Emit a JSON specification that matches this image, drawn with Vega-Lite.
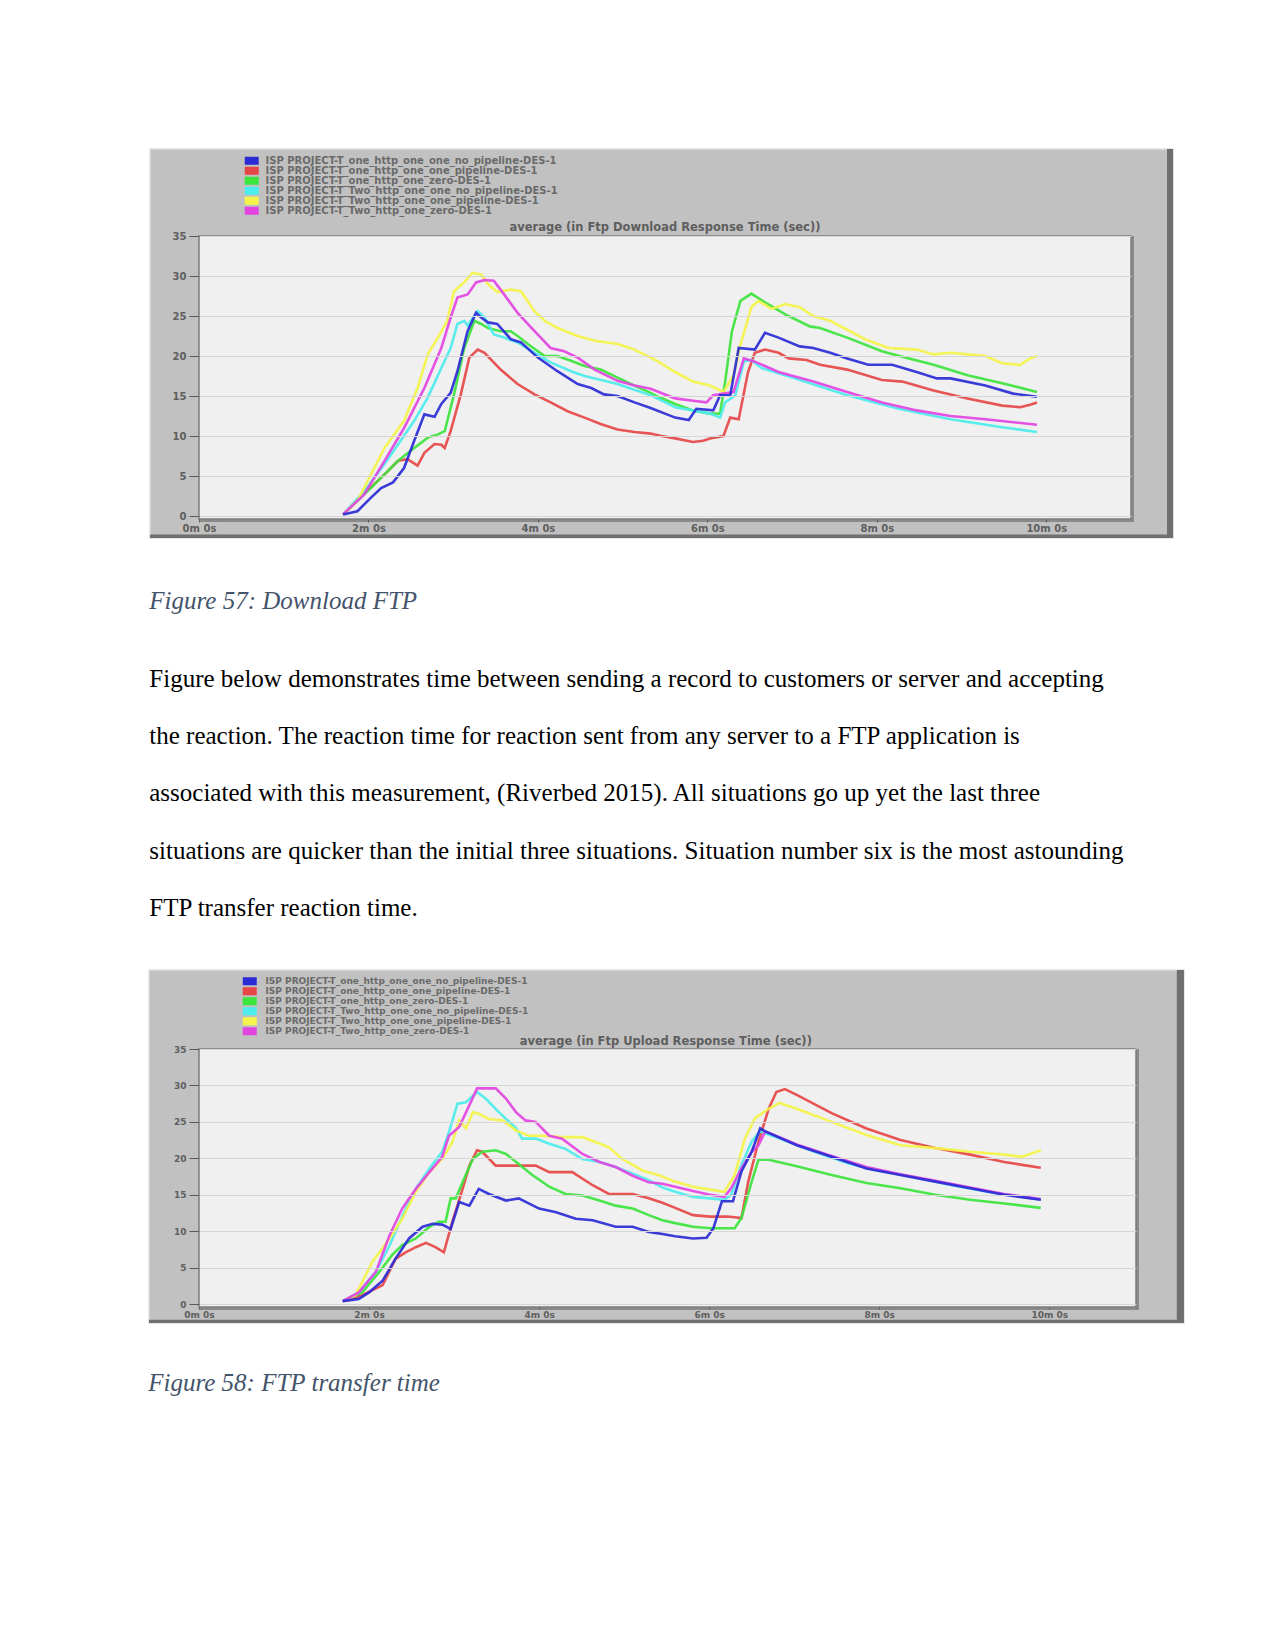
{
  "$schema": "https://vega.github.io/schema/vega-lite/v6.json",
  "background": "white",
  "padding": {"left": 148, "top": 148, "right": 0, "bottom": 0},
  "autosize": {"type": "pad"},
  "config": {
    "view": {"stroke": null, "fill": "#f0f0f0"},
    "axis": {"labelFont": "DejaVu Sans", "labelFontWeight": "bold", "labelFontSize": 10, "labelColor": "#5e5e5e", "tickColor": "#5a5a5a"},
    "legend": {"labelFont": "DejaVu Sans", "labelFontWeight": "bold", "labelFontSize": 9, "labelColor": "#6a6a6a", "labelLimit": 600, "padding": 0, "labelOffset": 10}
  },
  "datasets": {
    "names": [
      {"k": 1, "s": "ISP PROJECT-T_one_http_one_one_no_pipeline-DES-1"},
      {"k": 2, "s": "ISP PROJECT-T_one_http_one_one_pipeline-DES-1"},
      {"k": 3, "s": "ISP PROJECT-T_one_http_one_zero-DES-1"},
      {"k": 4, "s": "ISP PROJECT-T_Two_http_one_one_no_pipeline-DES-1"},
      {"k": 5, "s": "ISP PROJECT-T_Two_http_one_one_pipeline-DES-1"},
      {"k": 6, "s": "ISP PROJECT-T_Two_http_one_zero-DES-1"}
    ],
    "dl": [
      {"k":2,"t":1.70,"v":0.2},{"k":2,"t":1.95,"v":2.8},{"k":2,"t":2.19,"v":5.2},{"k":2,"t":2.35,"v":6.9},{"k":2,"t":2.46,"v":7.1},{"k":2,"t":2.58,"v":6.3},{"k":2,"t":2.66,"v":7.9},{"k":2,"t":2.78,"v":9.0},{"k":2,"t":2.86,"v":8.9},{"k":2,"t":2.90,"v":8.5},{"k":2,"t":2.97,"v":10.6},{"k":2,"t":3.09,"v":15.2},{"k":2,"t":3.19,"v":19.8},{"k":2,"t":3.29,"v":20.8},{"k":2,"t":3.37,"v":20.4},{"k":2,"t":3.56,"v":18.3},{"k":2,"t":3.76,"v":16.5},{"k":2,"t":3.96,"v":15.2},{"k":2,"t":4.15,"v":14.2},{"k":2,"t":4.35,"v":13.1},{"k":2,"t":4.55,"v":12.3},{"k":2,"t":4.74,"v":11.5},{"k":2,"t":4.94,"v":10.8},{"k":2,"t":5.14,"v":10.5},{"k":2,"t":5.33,"v":10.3},{"k":2,"t":5.46,"v":10.0},{"k":2,"t":5.62,"v":9.7},{"k":2,"t":5.83,"v":9.25},{"k":2,"t":5.95,"v":9.4},{"k":2,"t":6.03,"v":9.7},{"k":2,"t":6.19,"v":10.0},{"k":2,"t":6.27,"v":12.3},{"k":2,"t":6.37,"v":12.1},{"k":2,"t":6.48,"v":18.0},{"k":2,"t":6.56,"v":20.4},{"k":2,"t":6.68,"v":20.8},{"k":2,"t":6.84,"v":20.4},{"k":2,"t":6.96,"v":19.7},{"k":2,"t":7.17,"v":19.5},{"k":2,"t":7.33,"v":18.9},{"k":2,"t":7.65,"v":18.3},{"k":2,"t":8.06,"v":17.0},{"k":2,"t":8.30,"v":16.8},{"k":2,"t":8.67,"v":15.7},{"k":2,"t":9.07,"v":14.7},{"k":2,"t":9.48,"v":13.8},{"k":2,"t":9.69,"v":13.6},{"k":2,"t":9.81,"v":13.9},{"k":2,"t":9.89,"v":14.2},
      {"k":3,"t":1.70,"v":0.2},{"k":3,"t":1.95,"v":2.7},{"k":3,"t":2.19,"v":5.2},{"k":3,"t":2.35,"v":6.9},{"k":3,"t":2.54,"v":8.5},{"k":3,"t":2.70,"v":9.8},{"k":3,"t":2.82,"v":10.2},{"k":3,"t":2.90,"v":10.6},{"k":3,"t":3.01,"v":15.2},{"k":3,"t":3.13,"v":21.0},{"k":3,"t":3.25,"v":24.4},{"k":3,"t":3.33,"v":24.0},{"k":3,"t":3.41,"v":23.5},{"k":3,"t":3.56,"v":23.1},{"k":3,"t":3.68,"v":23.1},{"k":3,"t":3.76,"v":22.5},{"k":3,"t":3.88,"v":21.5},{"k":3,"t":4.00,"v":20.6},{"k":3,"t":4.08,"v":20.0},{"k":3,"t":4.23,"v":20.0},{"k":3,"t":4.39,"v":19.4},{"k":3,"t":4.55,"v":18.75},{"k":3,"t":4.74,"v":18.3},{"k":3,"t":4.94,"v":17.3},{"k":3,"t":5.14,"v":16.3},{"k":3,"t":5.33,"v":15.4},{"k":3,"t":5.42,"v":14.9},{"k":3,"t":5.62,"v":14.0},{"k":3,"t":5.83,"v":13.2},{"k":3,"t":6.03,"v":12.8},{"k":3,"t":6.15,"v":12.8},{"k":3,"t":6.21,"v":16.8},{"k":3,"t":6.29,"v":23.1},{"k":3,"t":6.39,"v":26.9},{"k":3,"t":6.52,"v":27.8},{"k":3,"t":6.68,"v":26.7},{"k":3,"t":6.92,"v":25.2},{"k":3,"t":7.21,"v":23.7},{"k":3,"t":7.33,"v":23.5},{"k":3,"t":7.65,"v":22.3},{"k":3,"t":8.06,"v":20.6},{"k":3,"t":8.30,"v":19.9},{"k":3,"t":8.67,"v":18.9},{"k":3,"t":9.07,"v":17.6},{"k":3,"t":9.48,"v":16.6},{"k":3,"t":9.89,"v":15.5},
      {"k":4,"t":1.70,"v":0.2},{"k":4,"t":1.95,"v":3.1},{"k":4,"t":2.19,"v":6.5},{"k":4,"t":2.38,"v":9.4},{"k":4,"t":2.54,"v":11.9},{"k":4,"t":2.70,"v":14.8},{"k":4,"t":2.86,"v":18.5},{"k":4,"t":2.97,"v":21.0},{"k":4,"t":3.05,"v":24.0},{"k":4,"t":3.13,"v":24.4},{"k":4,"t":3.17,"v":23.8},{"k":4,"t":3.29,"v":25.6},{"k":4,"t":3.37,"v":24.8},{"k":4,"t":3.48,"v":22.7},{"k":4,"t":3.60,"v":22.3},{"k":4,"t":3.76,"v":21.7},{"k":4,"t":3.96,"v":20.4},{"k":4,"t":4.15,"v":19.2},{"k":4,"t":4.39,"v":18.1},{"k":4,"t":4.55,"v":17.5},{"k":4,"t":4.94,"v":16.5},{"k":4,"t":5.33,"v":15.1},{"k":4,"t":5.62,"v":13.6},{"k":4,"t":6.03,"v":12.8},{"k":4,"t":6.15,"v":12.3},{"k":4,"t":6.21,"v":14.2},{"k":4,"t":6.33,"v":15.1},{"k":4,"t":6.43,"v":19.3},{"k":4,"t":6.52,"v":19.5},{"k":4,"t":6.64,"v":18.5},{"k":4,"t":7.04,"v":17.2},{"k":4,"t":7.65,"v":15.1},{"k":4,"t":8.26,"v":13.4},{"k":4,"t":8.87,"v":12.1},{"k":4,"t":9.48,"v":11.1},{"k":4,"t":9.89,"v":10.5},
      {"k":5,"t":1.70,"v":0.2},{"k":5,"t":1.87,"v":1.9},{"k":5,"t":2.03,"v":5.2},{"k":5,"t":2.19,"v":8.5},{"k":5,"t":2.42,"v":11.9},{"k":5,"t":2.58,"v":16.0},{"k":5,"t":2.70,"v":20.2},{"k":5,"t":2.82,"v":22.3},{"k":5,"t":2.93,"v":24.4},{"k":5,"t":3.01,"v":28.1},{"k":5,"t":3.13,"v":29.2},{"k":5,"t":3.23,"v":30.4},{"k":5,"t":3.33,"v":30.2},{"k":5,"t":3.41,"v":29.0},{"k":5,"t":3.52,"v":28.0},{"k":5,"t":3.68,"v":28.3},{"k":5,"t":3.80,"v":28.1},{"k":5,"t":3.96,"v":25.6},{"k":5,"t":4.08,"v":24.4},{"k":5,"t":4.23,"v":23.5},{"k":5,"t":4.47,"v":22.5},{"k":5,"t":4.67,"v":21.9},{"k":5,"t":4.94,"v":21.5},{"k":5,"t":5.14,"v":20.8},{"k":5,"t":5.33,"v":19.8},{"k":5,"t":5.42,"v":19.3},{"k":5,"t":5.62,"v":18.0},{"k":5,"t":5.83,"v":16.8},{"k":5,"t":6.03,"v":16.3},{"k":5,"t":6.19,"v":15.5},{"k":5,"t":6.31,"v":17.6},{"k":5,"t":6.39,"v":21.4},{"k":5,"t":6.52,"v":26.1},{"k":5,"t":6.60,"v":26.9},{"k":5,"t":6.76,"v":25.9},{"k":5,"t":6.92,"v":26.5},{"k":5,"t":7.09,"v":26.1},{"k":5,"t":7.25,"v":25.0},{"k":5,"t":7.45,"v":24.4},{"k":5,"t":7.86,"v":22.1},{"k":5,"t":8.14,"v":21.0},{"k":5,"t":8.47,"v":20.8},{"k":5,"t":8.67,"v":20.2},{"k":5,"t":8.87,"v":20.4},{"k":5,"t":9.07,"v":20.2},{"k":5,"t":9.28,"v":20.0},{"k":5,"t":9.48,"v":19.1},{"k":5,"t":9.69,"v":18.9},{"k":5,"t":9.81,"v":19.7},{"k":5,"t":9.89,"v":20.0},
      {"k":6,"t":1.70,"v":0.2},{"k":6,"t":1.95,"v":2.7},{"k":6,"t":2.19,"v":6.9},{"k":6,"t":2.42,"v":11.0},{"k":6,"t":2.66,"v":16.0},{"k":6,"t":2.86,"v":21.0},{"k":6,"t":2.97,"v":24.8},{"k":6,"t":3.05,"v":27.3},{"k":6,"t":3.17,"v":27.7},{"k":6,"t":3.27,"v":29.2},{"k":6,"t":3.37,"v":29.5},{"k":6,"t":3.48,"v":29.4},{"k":6,"t":3.60,"v":27.7},{"k":6,"t":3.76,"v":25.4},{"k":6,"t":3.96,"v":23.1},{"k":6,"t":4.15,"v":21.0},{"k":6,"t":4.31,"v":20.6},{"k":6,"t":4.47,"v":19.8},{"k":6,"t":4.67,"v":18.3},{"k":6,"t":4.94,"v":16.9},{"k":6,"t":5.14,"v":16.3},{"k":6,"t":5.33,"v":15.9},{"k":6,"t":5.62,"v":14.7},{"k":6,"t":5.83,"v":14.4},{"k":6,"t":5.99,"v":14.2},{"k":6,"t":6.07,"v":15.1},{"k":6,"t":6.19,"v":15.3},{"k":6,"t":6.31,"v":15.5},{"k":6,"t":6.43,"v":19.7},{"k":6,"t":6.56,"v":19.3},{"k":6,"t":6.84,"v":18.0},{"k":6,"t":7.25,"v":16.8},{"k":6,"t":7.65,"v":15.5},{"k":6,"t":8.06,"v":14.2},{"k":6,"t":8.47,"v":13.2},{"k":6,"t":8.87,"v":12.5},{"k":6,"t":9.28,"v":12.1},{"k":6,"t":9.89,"v":11.4},
      {"k":1,"t":1.70,"v":0.2},{"k":1,"t":1.87,"v":0.6},{"k":1,"t":2.03,"v":2.3},{"k":1,"t":2.15,"v":3.5},{"k":1,"t":2.29,"v":4.2},{"k":1,"t":2.42,"v":6.0},{"k":1,"t":2.54,"v":9.4},{"k":1,"t":2.66,"v":12.7},{"k":1,"t":2.78,"v":12.4},{"k":1,"t":2.86,"v":14.0},{"k":1,"t":2.97,"v":15.4},{"k":1,"t":3.05,"v":18.1},{"k":1,"t":3.17,"v":23.1},{"k":1,"t":3.27,"v":25.4},{"k":1,"t":3.33,"v":24.8},{"k":1,"t":3.41,"v":24.2},{"k":1,"t":3.52,"v":24.0},{"k":1,"t":3.68,"v":22.1},{"k":1,"t":3.80,"v":21.7},{"k":1,"t":4.00,"v":19.8},{"k":1,"t":4.23,"v":18.1},{"k":1,"t":4.47,"v":16.5},{"k":1,"t":4.63,"v":16.0},{"k":1,"t":4.78,"v":15.2},{"k":1,"t":4.94,"v":15.0},{"k":1,"t":5.14,"v":14.2},{"k":1,"t":5.33,"v":13.5},{"k":1,"t":5.50,"v":12.8},{"k":1,"t":5.62,"v":12.3},{"k":1,"t":5.78,"v":12.0},{"k":1,"t":5.87,"v":13.4},{"k":1,"t":6.07,"v":13.2},{"k":1,"t":6.15,"v":15.1},{"k":1,"t":6.27,"v":15.1},{"k":1,"t":6.37,"v":21.0},{"k":1,"t":6.56,"v":20.8},{"k":1,"t":6.68,"v":22.9},{"k":1,"t":6.84,"v":22.3},{"k":1,"t":7.09,"v":21.2},{"k":1,"t":7.25,"v":21.0},{"k":1,"t":7.45,"v":20.4},{"k":1,"t":7.65,"v":19.7},{"k":1,"t":7.90,"v":18.9},{"k":1,"t":8.18,"v":18.9},{"k":1,"t":8.47,"v":18.0},{"k":1,"t":8.71,"v":17.2},{"k":1,"t":8.87,"v":17.2},{"k":1,"t":9.28,"v":16.3},{"k":1,"t":9.61,"v":15.3},{"k":1,"t":9.89,"v":14.9}
    ],
    "ul": [
      {"k":2,"t":1.69,"v":0.4},{"k":2,"t":1.92,"v":1.2},{"k":2,"t":2.16,"v":2.6},{"k":2,"t":2.31,"v":6.2},{"k":2,"t":2.43,"v":7.1},{"k":2,"t":2.55,"v":7.8},{"k":2,"t":2.67,"v":8.4},{"k":2,"t":2.78,"v":7.8},{"k":2,"t":2.88,"v":7.1},{"k":2,"t":2.98,"v":11.3},{"k":2,"t":3.10,"v":15.8},{"k":2,"t":3.18,"v":19.0},{"k":2,"t":3.27,"v":21.1},{"k":2,"t":3.33,"v":20.9},{"k":2,"t":3.49,"v":19.0},{"k":2,"t":3.73,"v":19.0},{"k":2,"t":3.96,"v":19.0},{"k":2,"t":4.12,"v":18.1},{"k":2,"t":4.39,"v":18.1},{"k":2,"t":4.63,"v":16.3},{"k":2,"t":4.82,"v":15.1},{"k":2,"t":5.10,"v":15.1},{"k":2,"t":5.29,"v":14.5},{"k":2,"t":5.45,"v":13.9},{"k":2,"t":5.60,"v":13.2},{"k":2,"t":5.81,"v":12.2},{"k":2,"t":6.01,"v":12.0},{"k":2,"t":6.22,"v":12.0},{"k":2,"t":6.38,"v":11.8},{"k":2,"t":6.46,"v":16.8},{"k":2,"t":6.58,"v":22.3},{"k":2,"t":6.70,"v":26.8},{"k":2,"t":6.79,"v":29.1},{"k":2,"t":6.89,"v":29.5},{"k":2,"t":7.03,"v":28.7},{"k":2,"t":7.44,"v":26.2},{"k":2,"t":7.85,"v":24.1},{"k":2,"t":8.25,"v":22.5},{"k":2,"t":8.66,"v":21.4},{"k":2,"t":9.07,"v":20.5},{"k":2,"t":9.47,"v":19.5},{"k":2,"t":9.68,"v":19.1},{"k":2,"t":9.90,"v":18.7},
      {"k":3,"t":1.69,"v":0.4},{"k":3,"t":1.92,"v":1.6},{"k":3,"t":2.12,"v":4.4},{"k":3,"t":2.27,"v":6.7},{"k":3,"t":2.39,"v":8.1},{"k":3,"t":2.55,"v":9.0},{"k":3,"t":2.71,"v":10.6},{"k":3,"t":2.82,"v":11.3},{"k":3,"t":2.90,"v":11.3},{"k":3,"t":2.96,"v":14.5},{"k":3,"t":3.02,"v":14.5},{"k":3,"t":3.10,"v":16.7},{"k":3,"t":3.22,"v":19.9},{"k":3,"t":3.33,"v":20.9},{"k":3,"t":3.49,"v":21.1},{"k":3,"t":3.61,"v":20.6},{"k":3,"t":3.73,"v":19.5},{"k":3,"t":3.92,"v":17.7},{"k":3,"t":4.12,"v":16.1},{"k":3,"t":4.31,"v":15.1},{"k":3,"t":4.51,"v":14.9},{"k":3,"t":4.71,"v":14.2},{"k":3,"t":4.90,"v":13.5},{"k":3,"t":5.10,"v":13.1},{"k":3,"t":5.29,"v":12.2},{"k":3,"t":5.45,"v":11.5},{"k":3,"t":5.60,"v":11.1},{"k":3,"t":5.81,"v":10.6},{"k":3,"t":6.01,"v":10.4},{"k":3,"t":6.30,"v":10.4},{"k":3,"t":6.38,"v":11.8},{"k":3,"t":6.50,"v":16.8},{"k":3,"t":6.58,"v":19.8},{"k":3,"t":6.70,"v":19.8},{"k":3,"t":7.03,"v":18.9},{"k":3,"t":7.44,"v":17.7},{"k":3,"t":7.85,"v":16.6},{"k":3,"t":8.25,"v":15.9},{"k":3,"t":8.66,"v":15.0},{"k":3,"t":9.07,"v":14.3},{"k":3,"t":9.47,"v":13.8},{"k":3,"t":9.90,"v":13.2},
      {"k":4,"t":1.69,"v":0.4},{"k":4,"t":1.88,"v":1.6},{"k":4,"t":2.08,"v":4.4},{"k":4,"t":2.24,"v":8.0},{"k":4,"t":2.39,"v":12.0},{"k":4,"t":2.55,"v":15.8},{"k":4,"t":2.71,"v":18.6},{"k":4,"t":2.86,"v":20.9},{"k":4,"t":2.94,"v":23.6},{"k":4,"t":3.04,"v":27.5},{"k":4,"t":3.14,"v":27.7},{"k":4,"t":3.27,"v":29.1},{"k":4,"t":3.37,"v":28.2},{"k":4,"t":3.53,"v":26.3},{"k":4,"t":3.73,"v":24.1},{"k":4,"t":3.80,"v":22.7},{"k":4,"t":3.96,"v":22.7},{"k":4,"t":4.12,"v":22.0},{"k":4,"t":4.31,"v":21.3},{"k":4,"t":4.51,"v":19.9},{"k":4,"t":4.71,"v":19.5},{"k":4,"t":4.90,"v":18.8},{"k":4,"t":5.10,"v":17.9},{"k":4,"t":5.29,"v":17.0},{"k":4,"t":5.45,"v":16.0},{"k":4,"t":5.60,"v":15.4},{"k":4,"t":5.81,"v":14.7},{"k":4,"t":6.01,"v":14.5},{"k":4,"t":6.18,"v":14.3},{"k":4,"t":6.26,"v":15.0},{"k":4,"t":6.38,"v":19.1},{"k":4,"t":6.50,"v":22.3},{"k":4,"t":6.60,"v":23.7},{"k":4,"t":6.83,"v":22.7},{"k":4,"t":7.24,"v":20.9},{"k":4,"t":7.64,"v":19.3},{"k":4,"t":8.05,"v":18.2},{"k":4,"t":8.46,"v":17.3},{"k":4,"t":8.86,"v":16.3},{"k":4,"t":9.27,"v":15.4},{"k":4,"t":9.90,"v":14.35},
      {"k":5,"t":1.69,"v":0.4},{"k":5,"t":1.84,"v":1.2},{"k":5,"t":2.04,"v":5.8},{"k":5,"t":2.24,"v":9.0},{"k":5,"t":2.39,"v":11.7},{"k":5,"t":2.55,"v":15.4},{"k":5,"t":2.71,"v":18.1},{"k":5,"t":2.86,"v":19.9},{"k":5,"t":2.98,"v":22.2},{"k":5,"t":3.06,"v":25.2},{"k":5,"t":3.14,"v":24.1},{"k":5,"t":3.22,"v":26.3},{"k":5,"t":3.29,"v":26.1},{"k":5,"t":3.41,"v":25.4},{"k":5,"t":3.57,"v":25.2},{"k":5,"t":3.73,"v":23.8},{"k":5,"t":3.88,"v":23.1},{"k":5,"t":4.04,"v":23.1},{"k":5,"t":4.27,"v":22.9},{"k":5,"t":4.51,"v":22.9},{"k":5,"t":4.67,"v":22.2},{"k":5,"t":4.82,"v":21.5},{"k":5,"t":4.98,"v":19.9},{"k":5,"t":5.22,"v":18.3},{"k":5,"t":5.40,"v":17.7},{"k":5,"t":5.60,"v":16.8},{"k":5,"t":5.81,"v":16.1},{"k":5,"t":6.01,"v":15.7},{"k":5,"t":6.18,"v":15.4},{"k":5,"t":6.30,"v":17.7},{"k":5,"t":6.42,"v":22.7},{"k":5,"t":6.54,"v":25.5},{"k":5,"t":6.70,"v":26.8},{"k":5,"t":6.83,"v":27.6},{"k":5,"t":7.03,"v":26.8},{"k":5,"t":7.44,"v":25.0},{"k":5,"t":7.85,"v":23.2},{"k":5,"t":8.25,"v":21.8},{"k":5,"t":8.66,"v":21.4},{"k":5,"t":9.07,"v":20.9},{"k":5,"t":9.47,"v":20.5},{"k":5,"t":9.68,"v":20.2},{"k":5,"t":9.80,"v":20.7},{"k":5,"t":9.90,"v":21.1},
      {"k":6,"t":1.69,"v":0.4},{"k":6,"t":1.88,"v":1.6},{"k":6,"t":2.08,"v":4.4},{"k":6,"t":2.24,"v":9.4},{"k":6,"t":2.39,"v":13.1},{"k":6,"t":2.55,"v":15.8},{"k":6,"t":2.71,"v":18.1},{"k":6,"t":2.86,"v":20.2},{"k":6,"t":2.94,"v":23.1},{"k":6,"t":3.06,"v":24.3},{"k":6,"t":3.18,"v":27.3},{"k":6,"t":3.27,"v":29.6},{"k":6,"t":3.49,"v":29.6},{"k":6,"t":3.61,"v":28.2},{"k":6,"t":3.73,"v":26.3},{"k":6,"t":3.84,"v":25.2},{"k":6,"t":3.96,"v":25.0},{"k":6,"t":4.12,"v":23.1},{"k":6,"t":4.27,"v":22.7},{"k":6,"t":4.51,"v":20.6},{"k":6,"t":4.71,"v":19.5},{"k":6,"t":4.90,"v":18.8},{"k":6,"t":5.10,"v":17.6},{"k":6,"t":5.29,"v":16.7},{"k":6,"t":5.45,"v":16.5},{"k":6,"t":5.60,"v":16.1},{"k":6,"t":5.81,"v":15.5},{"k":6,"t":6.01,"v":15.0},{"k":6,"t":6.18,"v":14.7},{"k":6,"t":6.26,"v":15.9},{"k":6,"t":6.38,"v":18.6},{"k":6,"t":6.50,"v":20.9},{"k":6,"t":6.58,"v":21.8},{"k":6,"t":6.66,"v":23.7},{"k":6,"t":7.03,"v":21.9},{"k":6,"t":7.44,"v":20.3},{"k":6,"t":7.85,"v":18.8},{"k":6,"t":8.25,"v":17.8},{"k":6,"t":8.66,"v":16.9},{"k":6,"t":9.07,"v":16.0},{"k":6,"t":9.47,"v":15.1},{"k":6,"t":9.90,"v":14.4},
      {"k":1,"t":1.69,"v":0.4},{"k":1,"t":1.88,"v":0.7},{"k":1,"t":2.00,"v":1.6},{"k":1,"t":2.16,"v":3.2},{"k":1,"t":2.31,"v":6.2},{"k":1,"t":2.47,"v":9.0},{"k":1,"t":2.63,"v":10.6},{"k":1,"t":2.75,"v":11.0},{"k":1,"t":2.86,"v":10.9},{"k":1,"t":2.96,"v":10.3},{"k":1,"t":3.06,"v":14.0},{"k":1,"t":3.18,"v":13.5},{"k":1,"t":3.29,"v":15.8},{"k":1,"t":3.41,"v":15.1},{"k":1,"t":3.61,"v":14.2},{"k":1,"t":3.76,"v":14.5},{"k":1,"t":4.00,"v":13.1},{"k":1,"t":4.20,"v":12.6},{"k":1,"t":4.43,"v":11.7},{"k":1,"t":4.63,"v":11.5},{"k":1,"t":4.90,"v":10.6},{"k":1,"t":5.10,"v":10.6},{"k":1,"t":5.29,"v":9.9},{"k":1,"t":5.45,"v":9.6},{"k":1,"t":5.60,"v":9.3},{"k":1,"t":5.81,"v":9.0},{"k":1,"t":5.97,"v":9.1},{"k":1,"t":6.05,"v":10.4},{"k":1,"t":6.15,"v":14.1},{"k":1,"t":6.28,"v":14.1},{"k":1,"t":6.38,"v":18.2},{"k":1,"t":6.50,"v":20.9},{"k":1,"t":6.60,"v":24.1},{"k":1,"t":6.66,"v":23.7},{"k":1,"t":7.03,"v":21.8},{"k":1,"t":7.44,"v":20.2},{"k":1,"t":7.85,"v":18.6},{"k":1,"t":8.25,"v":17.7},{"k":1,"t":8.66,"v":16.8},{"k":1,"t":9.07,"v":15.9},{"k":1,"t":9.47,"v":15.0},{"k":1,"t":9.90,"v":14.3}
    ]
  },
  "resolve": {"scale": {"color": "independent"}, "legend": {"color": "independent"}},
  "spacing": 48,
  "vconcat": [
    {
      "width": 932,
      "height": 283,
      "title": {
        "text": "Figure 57: Download FTP",
        "subtitle": [
          "Figure below demonstrates time between sending a record to customers or server and accepting",
          "the reaction. The reaction time for reaction sent from any server to a FTP application is",
          "associated with this measurement, (Riverbed 2015). All situations go up yet the last three",
          "situations are quicker than the initial three situations. Situation number six is the most astounding",
          "FTP transfer reaction time."
        ],
        "orient": "bottom", "anchor": "start", "frame": "bounds", "align": "left", "offset": 50,
        "font": "Liberation Serif", "fontStyle": "italic", "fontWeight": "normal", "fontSize": 25, "color": "#44546a",
        "subtitleFont": "Liberation Serif", "subtitleFontStyle": "normal", "subtitleFontWeight": "normal", "subtitleFontSize": 25, "subtitleColor": "#000000", "subtitleLineHeight": 57.3, "subtitlePadding": 53
      },
      "layer": [
        {"data": {"name": "names"}, "mark": {"type": "square", "size": 64, "opacity": 1},
         "encoding": {"x": {"datum": -0.3, "type": "quantitative"}, "y": {"datum": 40, "type": "quantitative"},
           "color": {"field": "s", "type": "nominal",
             "scale": {"domain": ["ISP PROJECT-T_one_http_one_one_no_pipeline-DES-1", "ISP PROJECT-T_one_http_one_one_pipeline-DES-1", "ISP PROJECT-T_one_http_one_zero-DES-1", "ISP PROJECT-T_Two_http_one_one_no_pipeline-DES-1", "ISP PROJECT-T_Two_http_one_one_pipeline-DES-1", "ISP PROJECT-T_Two_http_one_zero-DES-1"],
                       "range": ["#2b2bd6", "#e64646", "#3ce43c", "#4cecec", "#f4f44a", "#e244e2"]},
             "legend": {"title": null, "orient": "none", "legendX": 47.75, "legendY": -80.25, "rowPadding": 0, "labelFontSize": 10, "labelOffset": 8.75,
               "symbolType": "M -1.75 -1 L 1.75 -1 L 1.75 1 L -1.75 1 Z", "symbolSize": 64, "symbolStrokeWidth": 0, "symbolOffset": 0, "symbolOpacity": 1}}}},
        {"data": {"values": [{}]}, "mark": {"type": "rect", "fill": "#c1c1c1"},
         "encoding": {"x": {"datum": -0.578, "type": "quantitative"}, "x2": {"datum": 11.496}, "y": {"datum": 35, "type": "quantitative"}, "y2": {"datum": 45.875}}},
        {"data": {"values": [{}]}, "mark": {"type": "rect", "fill": "#c1c1c1"},
         "encoding": {"x": {"datum": -0.578, "type": "quantitative"}, "x2": {"datum": 11.496}, "y": {"datum": -2.75, "type": "quantitative"}, "y2": {"datum": -0.375}}},
        {"data": {"values": [{}]}, "mark": {"type": "rect", "fill": "#c1c1c1"},
         "encoding": {"x": {"datum": -0.578, "type": "quantitative"}, "x2": {"datum": 0}, "y": {"datum": -0.375, "type": "quantitative"}, "y2": {"datum": 35}}},
        {"data": {"values": [{}]}, "mark": {"type": "rect", "fill": "#c1c1c1"},
         "encoding": {"x": {"datum": 11, "type": "quantitative"}, "x2": {"datum": 11.496}, "y": {"datum": -0.375, "type": "quantitative"}, "y2": {"datum": 35}}},
        {"data": {"values": [{}]}, "mark": {"type": "rect", "fill": "transparent", "stroke": "#dedede", "strokeWidth": 1.5},
         "encoding": {"x": {"datum": -0.578, "type": "quantitative"}, "x2": {"datum": 11.496}, "y": {"datum": -2.75, "type": "quantitative"}, "y2": {"datum": 45.875}}},
        {"data": {"values": [{}]}, "mark": {"type": "rect", "fill": "#6f6f6f"},
         "encoding": {"x": {"datum": 11.425, "type": "quantitative"}, "x2": {"datum": 11.496}, "y": {"datum": -2.75, "type": "quantitative"}, "y2": {"datum": 45.875}}},
        {"data": {"values": [{}]}, "mark": {"type": "rect", "fill": "#6f6f6f"},
         "encoding": {"x": {"datum": -0.578, "type": "quantitative"}, "x2": {"datum": 11.496}, "y": {"datum": -2.75, "type": "quantitative"}, "y2": {"datum": -2.3}}},
        {"data": {"values": [{}]}, "mark": {"type": "rect", "fill": "#8a8a8a"},
         "encoding": {"x": {"datum": 11, "type": "quantitative"}, "x2": {"datum": 11.035}, "y": {"datum": -0.75, "type": "quantitative"}, "y2": {"datum": 35}}},
        {"data": {"values": [{}]}, "mark": {"type": "rect", "fill": "#8a8a8a"},
         "encoding": {"x": {"datum": 0, "type": "quantitative"}, "x2": {"datum": 11.035}, "y": {"datum": -0.75, "type": "quantitative"}, "y2": {"datum": -0.375}}},
        {"data": {"values": [{}]}, "mark": {"type": "rect", "fill": "transparent", "stroke": "#7c7c7c", "strokeWidth": 1.5},
         "encoding": {"x": {"datum": 0, "type": "quantitative"}, "x2": {"datum": 11}, "y": {"datum": -0.375, "type": "quantitative"}, "y2": {"datum": 35}}},
        {"data": {"values": [{"label": "average (in Ftp Download Response Time (sec))"}]},
         "mark": {"type": "text", "font": "DejaVu Sans", "fontWeight": "bold", "fontSize": 11.5, "color": "#5e5e5e", "align": "center", "baseline": "middle"},
         "encoding": {"x": {"datum": 5.5, "type": "quantitative"}, "y": {"datum": 36.0, "type": "quantitative"}, "text": {"field": "label", "type": "nominal"}}},
        {
          "data": {"name": "dl"},
          "transform": [{"lookup": "k", "from": {"data": {"name": "names"}, "key": "k", "fields": ["s"]}}],
          "mark": {"type": "line", "strokeWidth": 2.6, "opacity": 0.92},
          "encoding": {
            "x": {"field": "t", "type": "quantitative", "scale": {"domain": [0, 11], "nice": false, "zero": false},
                  "axis": {"title": null, "values": [0, 2, 4, 6, 8, 10], "labelExpr": "datum.value + 'm 0s'", "grid": false, "domain": false, "tickSize": 3, "labelPadding": 1, "labelFlush": false, "labelOverlap": false, "zindex": 1}},
            "y": {"field": "v", "type": "quantitative", "scale": {"domain": [-0.375, 35], "nice": false, "zero": false},
                  "axis": {"title": null, "values": [0, 5, 10, 15, 20, 25, 30, 35], "tickCount": 8, "grid": true, "gridColor": "#d6d6d6", "domain": false, "tickSize": 10, "labelPadding": 3, "labelOverlap": false, "labelFlush": false, "zindex": 1}},
            "color": {"field": "s", "type": "nominal", "legend": null}
          }
        }
      ]
    },
    {
      "width": 937,
      "height": 258,
      "title": {
        "text": "Figure 58: FTP transfer time",
        "orient": "bottom", "anchor": "start", "frame": "bounds", "align": "left", "offset": 47,
        "font": "Liberation Serif", "fontStyle": "italic", "fontWeight": "normal", "fontSize": 25, "color": "#44546a"
      },
      "layer": [
        {"data": {"name": "names"}, "mark": {"type": "square", "size": 64, "opacity": 1},
         "encoding": {"x": {"datum": -0.3, "type": "quantitative"}, "y": {"datum": 40, "type": "quantitative"},
           "color": {"field": "s", "type": "nominal",
             "scale": {"domain": ["ISP PROJECT-T_one_http_one_one_no_pipeline-DES-1", "ISP PROJECT-T_one_http_one_one_pipeline-DES-1", "ISP PROJECT-T_one_http_one_zero-DES-1", "ISP PROJECT-T_Two_http_one_one_no_pipeline-DES-1", "ISP PROJECT-T_Two_http_one_one_pipeline-DES-1", "ISP PROJECT-T_Two_http_one_zero-DES-1"],
                       "range": ["#2b2bd6", "#e64646", "#3ce43c", "#4cecec", "#f4f44a", "#e244e2"]},
             "legend": {"title": null, "orient": "none", "legendX": 46.25, "legendY": -72.25, "rowPadding": 0, "labelFontSize": 9, "labelOffset": 11.25,
               "symbolType": "M -1.75 -1 L 1.75 -1 L 1.75 1 L -1.75 1 Z", "symbolSize": 64, "symbolStrokeWidth": 0, "symbolOffset": 0, "symbolOpacity": 1}}}},
        {"data": {"values": [{}]}, "mark": {"type": "rect", "fill": "#c1c1c1"},
         "encoding": {"x": {"datum": -0.588, "type": "quantitative"}, "x2": {"datum": 11.584}, "y": {"datum": 35, "type": "quantitative"}, "y2": {"datum": 45.84}}},
        {"data": {"values": [{}]}, "mark": {"type": "rect", "fill": "#c1c1c1"},
         "encoding": {"x": {"datum": -0.588, "type": "quantitative"}, "x2": {"datum": 11.584}, "y": {"datum": -2.606, "type": "quantitative"}, "y2": {"datum": -0.41}}},
        {"data": {"values": [{}]}, "mark": {"type": "rect", "fill": "#c1c1c1"},
         "encoding": {"x": {"datum": -0.588, "type": "quantitative"}, "x2": {"datum": 0}, "y": {"datum": -0.41, "type": "quantitative"}, "y2": {"datum": 35}}},
        {"data": {"values": [{}]}, "mark": {"type": "rect", "fill": "#c1c1c1"},
         "encoding": {"x": {"datum": 11.02, "type": "quantitative"}, "x2": {"datum": 11.584}, "y": {"datum": -0.41, "type": "quantitative"}, "y2": {"datum": 35}}},
        {"data": {"values": [{}]}, "mark": {"type": "rect", "fill": "transparent", "stroke": "#dedede", "strokeWidth": 1.5},
         "encoding": {"x": {"datum": -0.588, "type": "quantitative"}, "x2": {"datum": 11.584}, "y": {"datum": -2.606, "type": "quantitative"}, "y2": {"datum": 45.84}}},
        {"data": {"values": [{}]}, "mark": {"type": "rect", "fill": "#6f6f6f"},
         "encoding": {"x": {"datum": 11.50, "type": "quantitative"}, "x2": {"datum": 11.584}, "y": {"datum": -2.606, "type": "quantitative"}, "y2": {"datum": 45.84}}},
        {"data": {"values": [{}]}, "mark": {"type": "rect", "fill": "#6f6f6f"},
         "encoding": {"x": {"datum": -0.588, "type": "quantitative"}, "x2": {"datum": 11.584}, "y": {"datum": -2.606, "type": "quantitative"}, "y2": {"datum": -2.15}}},
        {"data": {"values": [{}]}, "mark": {"type": "rect", "fill": "#8a8a8a"},
         "encoding": {"x": {"datum": 11.02, "type": "quantitative"}, "x2": {"datum": 11.055}, "y": {"datum": -0.82, "type": "quantitative"}, "y2": {"datum": 35}}},
        {"data": {"values": [{}]}, "mark": {"type": "rect", "fill": "#8a8a8a"},
         "encoding": {"x": {"datum": 0, "type": "quantitative"}, "x2": {"datum": 11.055}, "y": {"datum": -0.82, "type": "quantitative"}, "y2": {"datum": -0.41}}},
        {"data": {"values": [{}]}, "mark": {"type": "rect", "fill": "transparent", "stroke": "#7c7c7c", "strokeWidth": 1.5},
         "encoding": {"x": {"datum": 0, "type": "quantitative"}, "x2": {"datum": 11.02}, "y": {"datum": -0.41, "type": "quantitative"}, "y2": {"datum": 35}}},
        {"data": {"values": [{"label": "average (in Ftp Upload Response Time (sec))"}]},
         "mark": {"type": "text", "font": "DejaVu Sans", "fontWeight": "bold", "fontSize": 11.5, "color": "#5e5e5e", "align": "center", "baseline": "middle"},
         "encoding": {"x": {"datum": 5.49, "type": "quantitative"}, "y": {"datum": 35.96, "type": "quantitative"}, "text": {"field": "label", "type": "nominal"}}},
        {
          "data": {"name": "ul"},
          "transform": [{"lookup": "k", "from": {"data": {"name": "names"}, "key": "k", "fields": ["s"]}}],
          "mark": {"type": "line", "strokeWidth": 2.6, "opacity": 0.92},
          "encoding": {
            "x": {"field": "t", "type": "quantitative", "scale": {"domain": [0, 11.02], "nice": false, "zero": false},
                  "axis": {"title": null, "values": [0, 2, 4, 6, 8, 10], "labelExpr": "datum.value + 'm 0s'", "grid": false, "domain": false, "tickSize": 2, "labelPadding": 1, "labelFontSize": 9, "labelFlush": false, "labelOverlap": false, "zindex": 1}},
            "y": {"field": "v", "type": "quantitative", "scale": {"domain": [-0.41, 35], "nice": false, "zero": false},
                  "axis": {"title": null, "values": [0, 5, 10, 15, 20, 25, 30, 35], "tickCount": 8, "grid": true, "gridColor": "#d6d6d6", "domain": false, "tickSize": 10, "labelPadding": 3, "labelFontSize": 9, "labelOverlap": false, "labelFlush": false, "zindex": 1}},
            "color": {"field": "s", "type": "nominal", "legend": null}
          }
        }
      ]
    }
  ]
}
